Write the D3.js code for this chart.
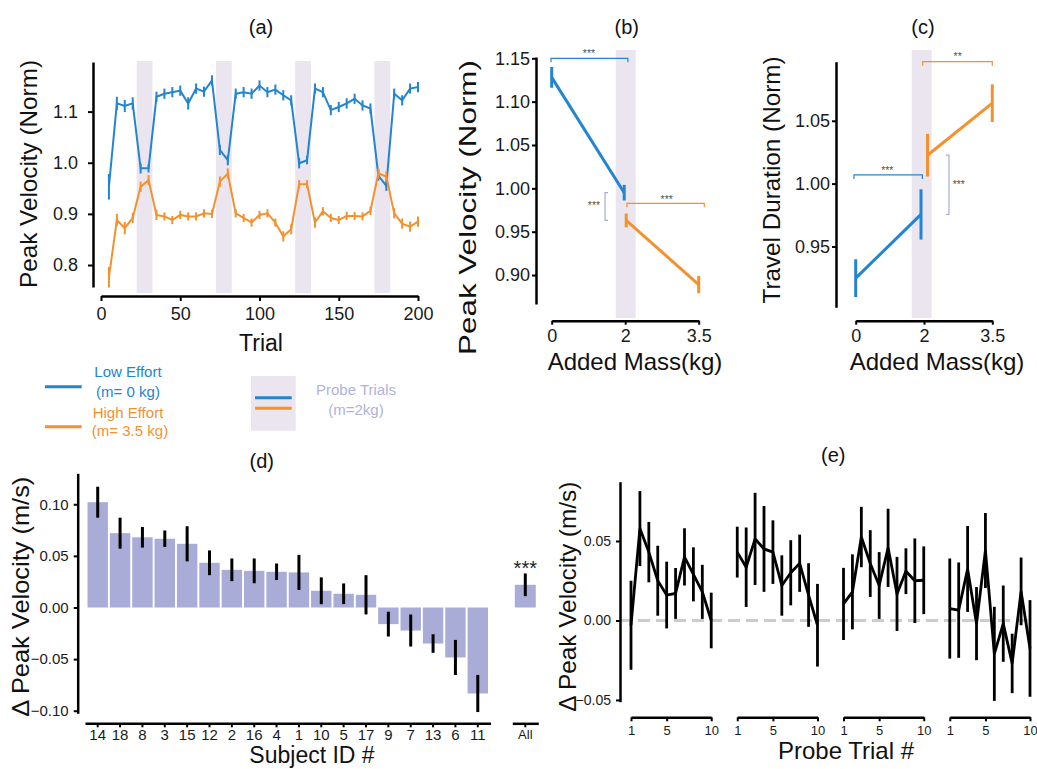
<!DOCTYPE html>
<html>
<head>
<meta charset="utf-8">
<script src="https://cdn.jsdelivr.net/npm/d3@7"></script>
<style>
  body { margin: 0; background: #fff; }
  svg { display: block; }
</style>
</head>
<body>
<svg id="fig" width="1037" height="769"></svg>
<script>
// ---- data ----
const trials = [5,10,15,20,25,30,35,40,45,50,55,60,65,70,75,80,85,90,95,100,
                105,110,115,120,125,130,135,140,145,150,155,160,165,170,175,180,185,190,195,200];
const lowEffort = [0.953,1.116,1.111,1.116,0.989,0.989,1.129,1.135,1.138,1.141,1.116,1.145,1.139,1.161,1.025,1.005,1.135,1.138,1.135,1.151,
                   1.138,1.143,1.132,1.122,0.999,1.005,1.145,1.138,1.103,1.109,1.116,1.125,1.112,1.106,0.975,0.955,1.135,1.122,1.145,1.148];
const lowEffortErr = [0.025,0.013,0.012,0.012,0.01,0.008,0.01,0.01,0.01,0.01,0.012,0.01,0.01,0.01,0.01,0.01,0.01,0.01,0.01,0.01,
                      0.01,0.01,0.01,0.01,0.01,0.008,0.01,0.01,0.01,0.01,0.01,0.01,0.01,0.01,0.01,0.01,0.01,0.01,0.01,0.01];
const highEffort = [0.776,0.888,0.872,0.892,0.953,0.966,0.898,0.895,0.888,0.898,0.895,0.895,0.901,0.900,0.963,0.979,0.901,0.892,0.883,0.898,
                    0.901,0.883,0.856,0.870,0.958,0.958,0.883,0.905,0.892,0.888,0.896,0.896,0.895,0.906,0.979,0.973,0.901,0.881,0.875,0.885];
const highEffortErr = [0.02,0.012,0.012,0.01,0.01,0.01,0.01,0.008,0.008,0.008,0.008,0.008,0.008,0.008,0.01,0.01,0.008,0.008,0.008,0.008,
                       0.008,0.008,0.01,0.01,0.008,0.008,0.01,0.008,0.008,0.008,0.008,0.008,0.008,0.008,0.01,0.01,0.01,0.01,0.01,0.01];
const probeBlocks = [[22.5,32.5],[72.5,82.5],[122.5,132.5],[172.5,182.5]];

const massLabels = ["0","2","3.5"];
const velLow = [1.128, 0.995],  velLowErr = [0.012, 0.009];     // at 0, 2 kg
const velHigh = [0.963, 0.889], velHighErr = [0.008, 0.01];     // at 2, 3.5 kg
const durLow = [0.9248, 0.9755], durLowErr = [0.015, 0.02];
const durHigh = [1.0226, 1.064], durHighErr = [0.017, 0.015];

const subjects = ["14","18","8","3","15","12","2","16","4","1","10","5","17","9","7","13","6","11"];
const subjectDelta = [0.102,0.072,0.068,0.0666,0.0617,0.0433,0.0365,0.0355,0.0346,0.034,0.0162,0.0133,0.0123,-0.0161,-0.0223,-0.0349,-0.0484,-0.0833];
const subjectErr = [0.015,0.015,0.01,0.008,0.017,0.012,0.011,0.012,0.008,0.017,0.013,0.01,0.019,0.012,0.0155,0.009,0.017,0.018];
const allDelta = 0.022, allErr = 0.011;

const probeTrialNums = [1,2,3,4,5,6,7,8,9,10];
const probeMean = [
  [-0.003,0.0578,0.043,0.025,0.016,0.017,0.040,0.029,0.018,0.0],
  [0.043,0.0335,0.0513,0.045,0.043,0.022,0.030,0.036,0.016,-0.003],
  [0.0104,0.018,0.0525,0.0358,0.022,0.0457,0.0167,0.031,0.025,0.0253],
  [0.0075,0.0065,0.0324,-0.002,0.044,-0.021,-0.002,-0.027,0.0183,-0.0176]
];
const probeErr = [
  [0.028,0.0236,0.019,0.022,0.021,0.016,0.018,0.017,0.017,0.0175],
  [0.016,0.025,0.029,0.027,0.02,0.019,0.0205,0.018,0.02,0.026],
  [0.0227,0.0236,0.019,0.021,0.021,0.0246,0.0233,0.0144,0.0266,0.0213],
  [0.0315,0.030,0.027,0.023,0.0236,0.0296,0.024,0.0187,0.0213,0.0304]
];

// ---- styling ----
const font = '"Liberation Sans", Arial, Helvetica, sans-serif';
const blue = "#2385cf", orange = "#f4912f", lav = "#ebe5f0", barCol = "#a9acd6", probeCol = "#b0b2dd";

const svg = d3.select("#fig").attr("font-family", font);
svg.append("rect").attr("width", 1037).attr("height", 769).attr("fill", "#fff");

function styleAxis(g, fs) {
  g.attr("font-family", font).attr("font-size", fs);
  g.select(".domain").attr("stroke", "#000").attr("stroke-width", 2.5);
  g.selectAll(".tick line").attr("stroke", "#000").attr("stroke-width", 2);
  g.selectAll(".tick text").attr("fill", "#1a1a1a");
}

function text(g, x, y, s, size, opt) {
  opt = opt || {};
  const t = g.append("text")
    .attr("x", x).attr("y", y)
    .attr("font-size", size)
    .attr("text-anchor", opt.anchor || "middle")
    .attr("fill", opt.fill || "#111")
    .text(s);
  return t;
}

function vlabel(g, x, cy, s, len) {
  g.append("text")
    .attr("transform", "translate(" + x + "," + cy + ") rotate(-90)")
    .attr("text-anchor", "middle")
    .attr("font-size", 24)
    .attr("fill", "#111")
    .attr("textLength", len)
    .attr("lengthAdjust", "spacingAndGlyphs")
    .text(s);
}

function errBars(g, pts, x, y, color, w) {
  g.selectAll(null).data(pts).join("line")
    .attr("x1", d => x(d)).attr("x2", d => x(d))
    .attr("y1", d => y(d.v - d.e)).attr("y2", d => y(d.v + d.e))
    .attr("stroke", color).attr("stroke-width", w);
}

// bracket: horizontal with ticks down, or vertical with ticks sideways
function hBracket(g, x1, x2, y, color) {
  g.append("path").attr("d", "M" + x1 + "," + (y + 4) + "V" + y + "H" + x2 + "V" + (y + 4))
    .attr("fill", "none").attr("stroke", color).attr("stroke-width", 1.2);
}
function vBracket(g, x, y1, y2, dir, color) {
  g.append("path").attr("d", "M" + (x + dir * 3) + "," + y1 + "H" + x + "V" + y2 + "H" + (x + dir * 3))
    .attr("fill", "none").attr("stroke", color).attr("stroke-width", 1.2);
}

// =========== (a) ===========
const pa = svg.append("g");
const xA = d3.scaleLinear().domain([0, 200]).range([101, 418]);
const yA = d3.scaleLinear().domain([0.757, 1.197]).range([287, 62]);

probeBlocks.forEach(b => {
  pa.append("rect").attr("x", xA(b[0])).attr("width", xA(b[1]) - xA(b[0]))
    .attr("y", 61).attr("height", 232).attr("fill", lav);
});

const lineA = d3.line().x(d => xA(d.t)).y(d => yA(d.v));
[[lowEffort, lowEffortErr, blue], [highEffort, highEffortErr, orange]].forEach(([vals, errs, c]) => {
  const pts = trials.map((t, i) => ({t: t, v: vals[i], e: errs[i]}));
  pa.append("path").datum(pts).attr("d", lineA)
    .attr("fill", "none").attr("stroke", c).attr("stroke-width", 2);
  errBars(pa, pts, d => xA(d.t), yA, c, 2);
});

pa.append("g").attr("transform", "translate(93,0)")
  .call(d3.axisLeft(yA).tickValues([0.8, 0.9, 1.0, 1.1]).tickFormat(d3.format(".1f"))
        .tickSize(5).tickSizeOuter(0).tickPadding(10))
  .call(styleAxis, 18);
pa.append("g").attr("transform", "translate(0,296)")
  .call(d3.axisBottom(xA).tickValues([0, 50, 100, 150, 200])
        .tickSize(5).tickSizeOuter(0).tickPadding(6))
  .call(styleAxis, 18);

text(pa, 261, 34, "(a)", 20);
vlabel(pa, 37, 174, "Peak Velocity (Norm)", 228);
text(pa, 261, 351, "Trial", 23);

// =========== (b) ===========
const pb = svg.append("g");
const xB = d3.scalePoint().domain(massLabels).range([551.7, 698.7]);
const yB = d3.scaleLinear().domain([0.8666, 1.1515]).range([304, 57]);

pb.append("rect").attr("x", 615.7).attr("width", 20).attr("y", 50).attr("height", 268).attr("fill", lav);

const lowB = [{m: "0", v: velLow[0], e: velLowErr[0], o: 0}, {m: "2", v: velLow[1], e: velLowErr[1], o: -1}];
const highB = [{m: "2", v: velHigh[0], e: velHighErr[0], o: 1}, {m: "3.5", v: velHigh[1], e: velHighErr[1], o: 0}];
[[lowB, blue], [highB, orange]].forEach(([pts, c]) => {
  pb.append("path").datum(pts)
    .attr("d", d3.line().x(d => xB(d.m) + d.o).y(d => yB(d.v)))
    .attr("fill", "none").attr("stroke", c).attr("stroke-width", 3);
  errBars(pb, pts, d => xB(d.m) + d.o, yB, c, 3);
});

pb.append("g").attr("transform", "translate(536,0)")
  .call(d3.axisLeft(yB).tickValues([0.90, 0.95, 1.00, 1.05, 1.10, 1.15]).tickFormat(d3.format(".2f"))
        .tickSize(4).tickSizeOuter(0).tickPadding(2))
  .call(styleAxis, 18);
pb.append("g").attr("transform", "translate(0,320.7)")
  .call(d3.axisBottom(xB).tickSize(4).tickSizeOuter(0).tickPadding(5))
  .call(styleAxis, 18);

hBracket(pb, xB("0") - 0.7, xB("2") + 2.7, yB(1.15), blue);
text(pb, 589, 56.7, "***", 10.5, {fill: "#555"});
hBracket(pb, xB("2") + 1.7, xB("3.5") + 5.6, yB(0.9827), orange);
text(pb, 666.7, 202.7, "***", 10.5, {fill: "#555"});
vBracket(pb, 605, yB(velLow[1]), yB(velHigh[0]), 1, barCol);
text(pb, 594, 208.7, "***", 10.5, {fill: "#555"});

text(pb, 626.7, 34, "(b)", 20);
vlabel(pb, 475.5, 207.5, "Peak Velocity (Norm)", 295);
text(pb, 635, 370, "Added Mass(kg)", 24);

// =========== (c) ===========
const pc = svg.append("g");
const xC = d3.scalePoint().domain(massLabels).range([855.7, 992.3]);
const yC = d3.scaleLinear().domain([0.9016, 1.097]).range([307.3, 61.7]);

pc.append("rect").attr("x", 911.7).attr("width", 20).attr("y", 50).attr("height", 268).attr("fill", lav);

const lowC = [{m: "0", v: durLow[0], e: durLowErr[0], o: 0}, {m: "2", v: durLow[1], e: durLowErr[1], o: -3}];
const highC = [{m: "2", v: durHigh[0], e: durHighErr[0], o: 3.5}, {m: "3.5", v: durHigh[1], e: durHighErr[1], o: 0}];
[[lowC, blue], [highC, orange]].forEach(([pts, c]) => {
  pc.append("path").datum(pts)
    .attr("d", d3.line().x(d => xC(d.m) + d.o).y(d => yC(d.v)))
    .attr("fill", "none").attr("stroke", c).attr("stroke-width", 3);
  errBars(pc, pts, d => xC(d.m) + d.o, yC, c, 3);
});

pc.append("g").attr("transform", "translate(836,0)")
  .call(d3.axisLeft(yC).tickValues([0.95, 1.00, 1.05]).tickFormat(d3.format(".2f"))
        .tickSize(4).tickSizeOuter(0).tickPadding(2))
  .call(styleAxis, 18);
pc.append("g").attr("transform", "translate(0,320.7)")
  .call(d3.axisBottom(xC).tickSize(4).tickSizeOuter(0).tickPadding(5))
  .call(styleAxis, 18);

hBracket(pc, xC("2") - 1.3, xC("3.5"), yC(1.097), orange);
text(pc, 957.7, 60.3, "**", 10.5, {fill: "#555"});
hBracket(pc, xC("0") - 1.7, xC("2") - 1.6, yC(1.0069), blue);
text(pc, 887.3, 174.3, "***", 10.5, {fill: "#555"});
vBracket(pc, 949, yC(durHigh[0]), yC(durLow[1]), -1, barCol);
text(pc, 958.8, 187.7, "***", 10.5, {fill: "#555"});

text(pc, 923, 34, "(c)", 20);
vlabel(pc, 780, 180, "Travel Duration (Norm)", 247);
text(pc, 937, 370, "Added Mass(kg)", 24);

// =========== legend ===========
const lg = svg.append("g");
lg.append("line").attr("x1", 45).attr("x2", 81.7).attr("y1", 386.7).attr("y2", 386.7)
  .attr("stroke", blue).attr("stroke-width", 3);
text(lg, 128, 377, "Low Effort", 15, {fill: blue});
text(lg, 128, 397, "(m= 0 kg)", 15, {fill: blue});
lg.append("line").attr("x1", 45).attr("x2", 81.7).attr("y1", 426.7).attr("y2", 426.7)
  .attr("stroke", orange).attr("stroke-width", 3);
text(lg, 128, 417.5, "High Effort", 15, {fill: orange});
text(lg, 130, 436, "(m= 3.5 kg)", 15, {fill: orange});

lg.append("rect").attr("x", 251).attr("y", 376).attr("width", 44.7).attr("height", 54.7).attr("fill", lav);
lg.append("line").attr("x1", 255).attr("x2", 291.7).attr("y1", 397.7).attr("y2", 397.7)
  .attr("stroke", blue).attr("stroke-width", 3);
lg.append("line").attr("x1", 255).attr("x2", 291.7).attr("y1", 408.3).attr("y2", 408.3)
  .attr("stroke", orange).attr("stroke-width", 3);
text(lg, 356, 394.5, "Probe Trials", 15, {fill: probeCol});
text(lg, 356, 414.5, "(m=2kg)", 15, {fill: probeCol});

// =========== (d) ===========
const pd = svg.append("g");
const xD = d3.scaleBand().domain(subjects).range([85, 490.5]).paddingInner(0.087).paddingOuter(0.112);
const xAll = d3.scaleBand().domain(["All"]).range([512.3, 538.3]).paddingInner(0.087).paddingOuter(0.109);
const yD = d3.scaleLinear().domain([-0.1025, 0.130]).range([713.3, 473.3]);

const subjPts = subjects.map((s, i) => ({s: s, v: subjectDelta[i], e: subjectErr[i]}));
pd.selectAll(null).data(subjPts).join("rect")
  .attr("x", d => xD(d.s)).attr("width", xD.bandwidth())
  .attr("y", d => yD(Math.max(0, d.v))).attr("height", d => Math.abs(yD(d.v) - yD(0)))
  .attr("fill", barCol);
errBars(pd, subjPts, d => xD(d.s) + xD.bandwidth() / 2, yD, "#000", 3);

const allPts = [{s: "All", v: allDelta, e: allErr}];
pd.selectAll(null).data(allPts).join("rect")
  .attr("x", d => xAll(d.s)).attr("width", xAll.bandwidth())
  .attr("y", d => yD(d.v)).attr("height", d => yD(0) - yD(d.v))
  .attr("fill", barCol);
errBars(pd, allPts, d => xAll(d.s) + xAll.bandwidth() / 2, yD, "#000", 3);
text(pd, xAll("All") + xAll.bandwidth() / 2, 574.5, "***", 20, {fill: "#222"});

pd.append("g").attr("transform", "translate(77.7,0)")
  .call(d3.axisLeft(yD).tickValues([-0.10, -0.05, 0, 0.05, 0.10]).tickFormat(d3.format(".2f"))
        .tickSize(4).tickSizeOuter(0).tickPadding(5))
  .call(styleAxis, 15);
pd.append("g").attr("transform", "translate(0,723.3)")
  .call(d3.axisBottom(xD).tickSize(4).tickSizeOuter(0).tickPadding(2))
  .call(styleAxis, 15);
pd.append("g").attr("transform", "translate(0,723.3)")
  .call(d3.axisBottom(xAll).tickSize(4).tickSizeOuter(0).tickPadding(2))
  .call(styleAxis, 13);

text(pd, 261.7, 468, "(d)", 20);
vlabel(pd, 29, 596.7, "\u0394 Peak Velocity (m/s)", 240);
text(pd, 312, 763, "Subject ID #", 23);

// =========== (e) ===========
const pe = svg.append("g");
const groupX = d3.scaleBand().domain([0, 1, 2, 3]).range([631, 1030]).paddingInner(0.245);
const yE = d3.scaleLinear().domain([-0.0511, 0.0873]).range([701.7, 481.7]);

pe.append("line").attr("x1", 620).attr("x2", 1030).attr("y1", yE(0)).attr("y2", yE(0))
  .attr("stroke", "#cccccc").attr("stroke-width", 3).attr("stroke-dasharray", "12,6");

probeMean.forEach((means, gi) => {
  const xg = d3.scaleLinear().domain([1, 10]).range([groupX(gi), groupX(gi) + groupX.bandwidth()]);
  const pts = probeTrialNums.map((n, i) => ({n: n, v: means[i], e: probeErr[gi][i]}));
  errBars(pe, pts, d => xg(d.n), yE, "#000", 2.8);
  pe.append("path").datum(pts)
    .attr("d", d3.line().x(d => xg(d.n)).y(d => yE(d.v)))
    .attr("fill", "none").attr("stroke", "#000").attr("stroke-width", 2.8);
  pe.append("g").attr("transform", "translate(0,717.3)")
    .call(d3.axisBottom(xg).tickValues([1, 5, 10]).tickFormat(d3.format("d"))
          .tickSize(4).tickSizeOuter(0).tickPadding(4))
    .call(styleAxis, 13);
});

pe.append("g").attr("transform", "translate(620,0)")
  .call(d3.axisLeft(yE).tickValues([-0.05, 0, 0.05]).tickFormat(d3.format(".2f"))
        .tickSize(4).tickSizeOuter(0).tickPadding(5))
  .call(styleAxis, 14);

text(pe, 833.3, 462, "(e)", 20);
vlabel(pe, 575.5, 596.7, "\u0394 Peak Velocity (m/s)", 230);
text(pe, 846, 759, "Probe Trial #", 24);
</script>
</body>
</html>
